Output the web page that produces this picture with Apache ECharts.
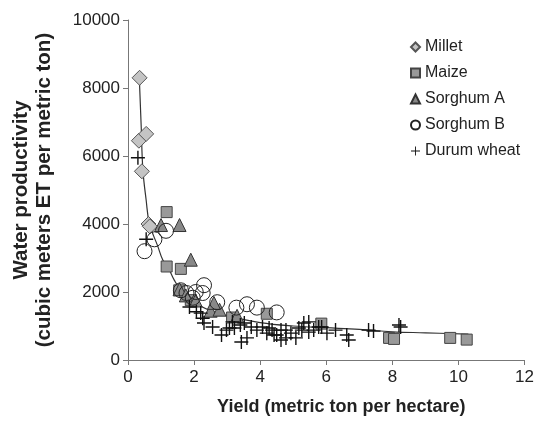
<!DOCTYPE html>
<html>
<head>
<meta charset="utf-8">
<script src="https://cdn.jsdelivr.net/npm/echarts@6/dist/echarts.min.js"></script>
<style>
  html, body { margin: 0; padding: 0; background: #fff; }
  #chart { width: 537px; height: 422px; }
</style>
</head>
<body>
<div id="chart"></div>
<script>
// yield (t/ha), water productivity (m3 ET per t)
const millet = [[0.35, 8300], [0.33, 6450], [0.55, 6650], [0.42, 5550], [0.62, 4000], [0.66, 3930]]
const maize = [[1.17, 4350], [1.17, 2750], [1.6, 2680], [1.55, 2050], [1.9, 1760], [3.15, 1250],
  [4.2, 1360], [5.85, 1070], [7.9, 650], [8.05, 620], [9.75, 650], [10.25, 600]]
const sorghumA = [[1.0, 3970], [1.56, 3970], [1.9, 2950], [1.56, 2080], [1.75, 1900], [2.05, 1750],
  [2.5, 1450], [2.77, 1480], [2.6, 1680], [3.3, 1300]]
const sorghumB = [[0.5, 3200], [0.8, 3550], [1.15, 3800], [1.6, 2050], [1.77, 1970], [1.96, 1830],
  [2.05, 2000], [2.3, 2200], [2.26, 1970], [2.7, 1700], [3.28, 1540], [3.6, 1640], [3.9, 1540], [4.5, 1400]]
const durum = [[0.3, 5950], [0.55, 3550], [1.86, 1560], [2.07, 1420], [2.2, 1380], [2.26, 1230],
  [2.3, 1090], [2.56, 970], [2.83, 735], [2.98, 880], [3.07, 940], [3.16, 1120], [3.22, 940],
  [3.4, 1030], [3.43, 530], [3.52, 1090], [3.6, 650], [3.73, 970], [3.9, 880], [4.07, 970],
  [4.2, 790], [4.27, 940], [4.36, 880], [4.42, 735], [4.5, 735], [4.63, 880], [4.63, 590],
  [4.78, 650], [4.78, 880], [4.93, 790], [5.08, 650], [5.17, 940], [5.26, 880], [5.32, 1090],
  [5.47, 820], [5.47, 1120], [5.62, 880], [5.77, 970], [5.86, 970], [6.02, 790], [6.28, 880],
  [6.62, 735], [6.68, 590], [7.28, 880], [7.43, 850], [8.2, 1030], [8.25, 970]]
// fitted curve
const fitX = [0.35, 0.4, 0.45, 0.55, 0.65, 0.9, 1.05, 1.2, 1.4, 1.6, 2, 2.5, 3, 4, 5, 6, 7, 8, 9, 10.3]
const fitY = [8100, 6850, 5600, 4700, 4000, 3350, 2950, 2750, 2350, 2050, 1700, 1450, 1300, 1100, 1000, 950, 900, 830, 800, 760]

const plus = 'path://M9,0H11V9H20V11H11V20H9V11H0V9H9Z'
const font = 'Liberation Sans, Arial, sans-serif'

const chart = echarts.init(document.getElementById('chart'))

function pts(name, data, symbol, size, fill, border) {
  return {
    name, type: 'scatter', data, symbol, symbolSize: size, z: 3,
    itemStyle: { color: fill, borderColor: border, borderWidth: border ? 1 : 0, opacity: 1 },
  }
}

chart.setOption({
  animation: false,
  grid: { left: 128, top: 20, right: 10, bottom: 62 },
  legend: {
    orient: 'vertical', left: 405, top: 34, itemWidth: 9, itemHeight: 9, itemGap: 10,
    data: ['Millet', 'Maize', 'Sorghum A', 'Sorghum B', 'Durum wheat'],
    textStyle: { fontFamily: font, fontSize: 16, color: '#222', lineHeight: 16 },
  },
  xAxis: {
    type: 'value', min: 0, max: 12, interval: 2,
    name: 'Yield (metric ton per hectare)', nameLocation: 'middle', nameGap: 38,
    nameTextStyle: { fontFamily: font, fontSize: 18, fontWeight: 'bold', color: '#222', padding: [0, 0, 0, 30] },
    axisLine: { lineStyle: { color: '#777' } },
    axisTick: { show: true, length: 5, lineStyle: { color: '#777' } },
    axisLabel: { fontFamily: font, fontSize: 17, color: '#222', margin: 9 },
    splitLine: { show: false },
  },
  yAxis: {
    type: 'value', min: 0, max: 10000, interval: 2000,
    name: 'Water productivity\n(cubic meters ET per metric ton)', nameLocation: 'middle', nameGap: 72,
    nameTextStyle: { fontFamily: font, fontSize: 20.5, fontWeight: 'bold', color: '#222', lineHeight: 23 },
    axisLine: { show: true, lineStyle: { color: '#777' } },
    axisTick: { show: true, length: 5, lineStyle: { color: '#777' } },
    axisLabel: { fontFamily: font, fontSize: 17, color: '#222', margin: 8, formatter: (v) => String(v) },
    splitLine: { show: false },
  },
  series: [
    {
      name: 'fit', type: 'line', data: fitX.map((x, i) => [x, fitY[i]]), smooth: 0.4,
      showSymbol: false, z: 2, lineStyle: { color: '#333', width: 1.2 }, silent: true,
    },
    pts('Millet', millet, 'diamond', 15, '#c4c4c4', '#555'),
    pts('Maize', maize, 'rect', 11, '#999', '#444'),
    pts('Sorghum A', sorghumA, 'triangle', 13, '#888', '#333'),
    pts('Sorghum B', sorghumB, 'circle', 15, 'rgba(255,255,255,0)', '#222'),
    pts('Durum wheat', durum, plus, 14, '#111', null),
  ],
})
</script>
</body>
</html>
